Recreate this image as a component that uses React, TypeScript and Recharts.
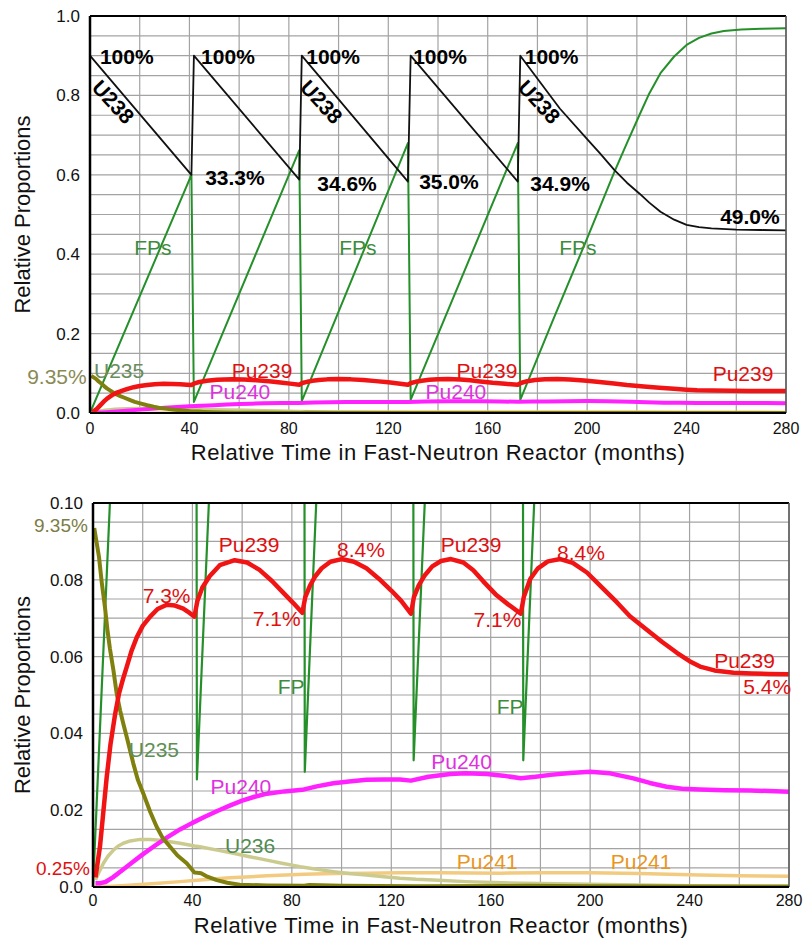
import React from "react";
import { LineChart, Line, XAxis, YAxis, CartesianGrid, ReferenceDot, ReferenceLine } from "recharts";

const FONT = "Arial, 'Liberation Sans', sans-serif";

// axis ticks (months / proportions)
const xGridTicks = [0, 20, 40, 60, 80, 100, 120, 140, 160, 180, 200, 220, 240, 260, 280];
const xLabelTicks = [0, 40, 80, 120, 160, 200, 240, 280];
const topYGrid = Array.from({ length: 21 }, (_, i) => i * 0.05);
const topYLabels = [0, 0.2, 0.4, 0.6, 0.8, 1.0];
const bottomYGrid = Array.from({ length: 21 }, (_, i) => i * 0.005);
const bottomYLabels = [0, 0.02, 0.04, 0.06, 0.08, 0.1];

// series: [month, proportion]
const u238 = [
  [0, 0.9], [40.8, 0.6], [41.8, 0.9], [84.2, 0.588], [85.2, 0.9], [127.9, 0.583], [129, 0.9],
  [172.1, 0.583], [173.1, 0.9], [189, 0.767], [200, 0.69], [205, 0.655], [211, 0.612], [216, 0.58],
  [221, 0.553], [225, 0.53], [229.5, 0.507], [235, 0.487], [240, 0.474], [245, 0.468], [250, 0.465],
  [260, 0.462], [270, 0.461], [280, 0.46],
];

const fps = [
  [0, 0], [40.8, 0.6], [41.8, 0.028], [84.2, 0.662], [85.2, 0.03], [127.9, 0.68], [129, 0.033],
  [172.1, 0.68], [173.1, 0.033], [186, 0.23], [200, 0.44], [211, 0.608], [216, 0.68], [221, 0.75],
  [225, 0.805], [229.5, 0.856], [235, 0.898], [240, 0.927], [245, 0.945], [250, 0.956], [255, 0.962],
  [262, 0.966], [270, 0.968], [280, 0.969],
];

const pu239 = [
  [1, 0.0025], [2.8, 0.0105], [4, 0.0185], [5.5, 0.0285], [7, 0.037], [8.9, 0.045], [10.5, 0.0505],
  [12, 0.054], [13.6, 0.0574], [15.5, 0.0615], [17.6, 0.065], [20, 0.068], [23, 0.0704], [26, 0.0724],
  [29.7, 0.0735], [33, 0.0733], [36.3, 0.0725], [39, 0.0713], [40.8, 0.0704],
  [42, 0.0745], [44, 0.078], [47, 0.081], [51, 0.0838], [57, 0.0851], [62, 0.0845], [67, 0.0826],
  [72, 0.0797], [76.6, 0.0766], [80.5, 0.074], [84.2, 0.0714],
  [85.4, 0.0755], [87.3, 0.0785], [89.5, 0.081], [92, 0.083], [95.5, 0.0847], [100, 0.0854],
  [105, 0.0847], [110, 0.083], [115, 0.0803], [120, 0.0772], [124, 0.0745], [127.9, 0.0712],
  [129.1, 0.0755], [131, 0.0785], [133.5, 0.0812], [136.5, 0.0835], [140, 0.0849], [144, 0.0854],
  [149, 0.0845], [153, 0.0825], [157, 0.0796], [162, 0.0762], [167, 0.0736], [172.1, 0.0712],
  [173.3, 0.0755], [175.9, 0.0802], [179, 0.083], [183, 0.0848], [188, 0.0854], [193, 0.0844],
  [198.7, 0.0819], [204, 0.0785], [210.8, 0.0741], [216, 0.0705], [222.8, 0.067], [229, 0.0638],
  [234.9, 0.061], [240, 0.0588], [244.2, 0.0574], [250, 0.0564], [257.7, 0.0558], [265, 0.0556],
  [272, 0.0555], [280, 0.0554],
];

const pu240 = [
  [1, 0.001], [3, 0.001], [5, 0.0013], [8, 0.0025], [12, 0.0045], [16, 0.0065], [20, 0.0085],
  [25, 0.0108], [30, 0.013], [35, 0.015], [40, 0.0167], [45, 0.0183], [50, 0.0198], [55, 0.0212],
  [60, 0.0225], [65, 0.0235], [70, 0.0243], [77, 0.0249], [84.2, 0.0253], [90, 0.0262],
  [96.7, 0.027], [103, 0.0275], [110, 0.0279], [117, 0.028], [123.5, 0.028], [127.9, 0.0277],
  [135, 0.0287], [143.7, 0.0294], [150, 0.0296], [158.4, 0.0294], [165, 0.029], [172.1, 0.0283],
  [178, 0.0287], [184, 0.0292], [192, 0.0297], [200, 0.03], [208, 0.0296], [217.4, 0.0283],
  [224, 0.0271], [230.8, 0.0261], [237, 0.0256], [244.2, 0.0254], [254, 0.0252], [264.4, 0.0251],
  [272, 0.025], [280, 0.0248],
];

const u235 = [
  [0.5, 0.0935], [2.4, 0.086], [3.5, 0.0794], [4.8, 0.0729], [5.8, 0.067], [6.8, 0.0621],
  [8.2, 0.0565], [9.5, 0.0505], [10.9, 0.046], [12.2, 0.0425], [13.6, 0.039], [16.2, 0.0322],
  [18, 0.028], [20.2, 0.0244], [23, 0.0196], [25.6, 0.0157], [28, 0.0128], [31, 0.0105],
  [34, 0.0082], [37.7, 0.0062], [40.8, 0.0038], [42, 0.0037], [43.5, 0.0036], [46, 0.0027],
  [49.8, 0.0018], [54, 0.0011], [59, 0.0006], [70, 0.0004], [85, 0.0003], [87, 0.0005],
  [100, 0.0003], [130, 0.0002], [175, 0.0003], [200, 0.0002], [240, 0.0001], [280, 0.0001],
];

const u236 = [
  [1, 0.0018], [2.5, 0.004], [4.2, 0.0062], [6, 0.008], [8.2, 0.0096], [10, 0.0106], [12.2, 0.0114],
  [15, 0.012], [18.9, 0.0124], [23, 0.0124], [27, 0.0122], [31, 0.0118], [35, 0.0114],
  [40.8, 0.0107], [43, 0.0105], [50, 0.0096], [56.5, 0.0088], [63, 0.0079], [69.9, 0.007],
  [76, 0.0062], [83.3, 0.0053], [90, 0.0046], [96.7, 0.004], [103, 0.0035], [110, 0.0031],
  [117, 0.0027], [123.5, 0.0023], [130, 0.002], [137, 0.0018], [150, 0.0014], [165, 0.0011],
  [180, 0.0009], [200, 0.0007], [220, 0.0005], [240, 0.0003], [260, 0.0002], [280, 0.0001],
];

const pu241 = [
  [0, 0], [8, 0.0002], [16, 0.0005], [25, 0.0009], [35, 0.0014], [43, 0.0018], [55, 0.0024],
  [70, 0.0029], [85, 0.0033], [97, 0.0035], [110, 0.0036], [123.5, 0.0037], [140, 0.0037],
  [164, 0.0036], [180, 0.0037], [200, 0.0037], [220, 0.0035], [244, 0.0031], [260, 0.0029],
  [280, 0.0028],
];

const C = {
  u238: "#111111",
  fp: "#25902a",
  pu239: "#f01414",
  pu240: "#ff22ff",
  u235: "#80800f",
  u236: "#cbcb90",
  pu241: "#f2cb80",
};

type Note = { text: string; t: number; v: number; color: string; bold?: boolean; rotate?: number; size?: number };

const topNotes: Note[] = [
  { text: "100%", t: 14.8, v: 0.899, color: "#000", bold: true },
  { text: "100%", t: 55.5, v: 0.899, color: "#000", bold: true },
  { text: "100%", t: 97.8, v: 0.899, color: "#000", bold: true },
  { text: "100%", t: 140.8, v: 0.899, color: "#000", bold: true },
  { text: "100%", t: 185.7, v: 0.899, color: "#000", bold: true },
  { text: "U238", t: 9.4, v: 0.784, color: "#000", bold: true, rotate: 47 },
  { text: "U238", t: 93.2, v: 0.784, color: "#000", bold: true, rotate: 47 },
  { text: "U238", t: 180.8, v: 0.784, color: "#000", bold: true, rotate: 47 },
  { text: "33.3%", t: 58.3, v: 0.594, color: "#000", bold: true },
  { text: "34.6%", t: 103.4, v: 0.579, color: "#000", bold: true },
  { text: "35.0%", t: 144.4, v: 0.582, color: "#000", bold: true },
  { text: "34.9%", t: 189.1, v: 0.579, color: "#000", bold: true },
  { text: "49.0%", t: 265.5, v: 0.494, color: "#000", bold: true },
  { text: "FPs", t: 25.3, v: 0.418, color: "#3d8c3d" },
  { text: "FPs", t: 107.8, v: 0.416, color: "#3d8c3d" },
  { text: "FPs", t: 196.3, v: 0.418, color: "#3d8c3d" },
  { text: "9.35%", t: -13.3, v: 0.0907, color: "#8a8a55" },
  { text: "U235", t: 11.7, v: 0.108, color: "#6a8c5c" },
  { text: "Pu239", t: 69.2, v: 0.108, color: "#e01010" },
  { text: "Pu240", t: 60.3, v: 0.053, color: "#e030e0" },
  { text: "Pu239", t: 159.7, v: 0.108, color: "#e01010" },
  { text: "Pu240", t: 147.2, v: 0.053, color: "#e030e0" },
  { text: "Pu239", t: 262.7, v: 0.1, color: "#e01010" },
];

const bottomNotes: Note[] = [
  { text: "9.35%", t: -12.9, v: 0.0942, color: "#7c7c45", size: 19 },
  { text: "Pu239", t: 62.8, v: 0.0891, color: "#e01010" },
  { text: "7.3%", t: 29.6, v: 0.076, color: "#e01010" },
  { text: "7.1%", t: 73.9, v: 0.07, color: "#e01010" },
  { text: "8.4%", t: 107.8, v: 0.0878, color: "#e01010" },
  { text: "Pu239", t: 152.1, v: 0.0891, color: "#e01010" },
  { text: "7.1%", t: 162.7, v: 0.0697, color: "#e01010" },
  { text: "8.4%", t: 196.3, v: 0.0871, color: "#e01010" },
  { text: "Pu239", t: 262.1, v: 0.0591, color: "#e01010" },
  { text: "5.4%", t: 271.2, v: 0.0522, color: "#e01010" },
  { text: "FP", t: 79.7, v: 0.0522, color: "#3d8c3d" },
  { text: "FP", t: 167.8, v: 0.047, color: "#3d8c3d" },
  { text: "U235", t: 24.5, v: 0.0357, color: "#5d9052" },
  { text: "Pu240", t: 59.5, v: 0.0261, color: "#e030e0" },
  { text: "U236", t: 63.2, v: 0.0109, color: "#4f8c4f" },
  { text: "0.25%", t: -12.1, v: 0.0049, color: "#e01010", size: 19 },
  { text: "Pu240", t: 148.3, v: 0.0326, color: "#e030e0" },
  { text: "Pu241", t: 158.6, v: 0.0066, color: "#e8961e" },
  { text: "Pu241", t: 220.5, v: 0.0066, color: "#e8961e" },
];

const rows = (s: number[][]) => s.map(([t, v]) => ({ t, v }));
const inList = (list: number[], v: number) => list.some((l) => Math.abs(l - v) < 1e-9);

function noteShape(n: Note) {
  return (p: any) => (
    <text
      x={p.cx}
      y={p.cy}
      fill={n.color}
      fontSize={n.size ?? 21}
      fontWeight={n.bold ? 700 : 400}
      fontFamily={FONT}
      textAnchor="middle"
      dominantBaseline="central"
      transform={n.rotate ? `rotate(${n.rotate} ${p.cx} ${p.cy})` : undefined}
    >
      {n.text}
    </text>
  );
}

function xTitle(dy: number) {
  return (props: any) => {
    const vb = props.viewBox ?? props;
    return (
      <text
        x={vb.x + vb.width / 2}
        y={vb.y + dy}
        textAnchor="middle"
        dominantBaseline="central"
        fontSize={22}
        letterSpacing={0.6}
        fontFamily={FONT}
        fill="#111"
      >
        Relative Time in Fast-Neutron Reactor (months)
      </text>
    );
  };
}

function yTitle(props: any) {
  const vb = props.viewBox ?? props;
  const cx = 22;
  const cy = vb.y + vb.height / 2;
  return (
    <text
      x={cx}
      y={cy}
      transform={`rotate(-90 ${cx} ${cy})`}
      textAnchor="middle"
      dominantBaseline="central"
      fontSize={22}
      fontFamily={FONT}
      fill="#111"
    >
      Relative Proportions
    </text>
  );
}

const tickStyle = { fontSize: 17, fill: "#111", fontFamily: FONT };

type Series = { key: string; data: number[][]; color: string; width: number };

function Panel({
  width,
  height,
  margin,
  yAxisWidth,
  xAxisHeight,
  yMax,
  yGrid,
  yLabels,
  yFormat,
  series,
  notes,
  tickMargin,
  titleDy,
}: {
  width: number;
  height: number;
  margin: { top: number; right: number; bottom: number; left: number };
  yAxisWidth: number;
  xAxisHeight: number;
  yMax: number;
  yGrid: number[];
  yLabels: number[];
  yFormat: (v: number) => string;
  series: Series[];
  notes: Note[];
  tickMargin: number;
  titleDy: number;
}) {
  return (
    <LineChart width={width} height={height} margin={margin}>
      <CartesianGrid stroke="#a3a3a3" strokeWidth={1.2} fill="#fff" />
      <XAxis
        dataKey="t"
        type="number"
        domain={[0, 280]}
        ticks={xGridTicks}
        interval={0}
        tickLine={false}
        tickMargin={tickMargin}
        tickFormatter={(v: number) => (inList(xLabelTicks, v) ? String(v) : "")}
        tick={{ ...tickStyle, fontSize: 16 }}
        axisLine={{ stroke: "#000", strokeWidth: 2 }}
        height={xAxisHeight}
        label={xTitle(titleDy)}
      />
      <YAxis
        type="number"
        domain={[0, yMax]}
        ticks={yGrid}
        interval={0}
        allowDataOverflow
        tickLine={false}
        tickMargin={4}
        tickFormatter={(v: number) => (inList(yLabels, v) ? yFormat(v) : "")}
        tick={tickStyle}
        axisLine={{ stroke: "#000", strokeWidth: 2.5 }}
        width={yAxisWidth}
        label={yTitle}
      />
      {series.map((s) => (
        <Line
          key={s.key}
          data={rows(s.data)}
          dataKey="v"
          type="linear"
          stroke={s.color}
          strokeWidth={s.width}
          strokeLinejoin="round"
          dot={false}
          activeDot={false}
          isAnimationActive={false}
        />
      ))}
      <ReferenceLine y={yMax} stroke="#000" strokeWidth={2} />
      <ReferenceLine x={280} stroke="#555" strokeWidth={1.5} />
      {notes.map((n, i) => (
        <ReferenceDot key={i} x={n.t} y={n.v} r={0} ifOverflow="visible" shape={noteShape(n)} />
      ))}
    </LineChart>
  );
}

export default function App() {
  const topSeries: Series[] = [
    { key: "pu241", data: pu241, color: C.pu241, width: 2.5 },
    { key: "u236", data: u236, color: C.u236, width: 2.5 },
    { key: "fp", data: fps, color: C.fp, width: 2 },
    { key: "u238", data: u238, color: C.u238, width: 1.8 },
    { key: "pu240", data: pu240, color: C.pu240, width: 4 },
    { key: "u235", data: u235, color: C.u235, width: 4 },
    { key: "pu239", data: pu239, color: C.pu239, width: 4.5 },
  ];
  const bottomSeries: Series[] = [
    { key: "fp", data: fps, color: C.fp, width: 2.2 },
    { key: "pu241", data: pu241, color: C.pu241, width: 3.5 },
    { key: "u236", data: u236, color: C.u236, width: 3.5 },
    { key: "pu240", data: pu240, color: C.pu240, width: 4.5 },
    { key: "u235", data: u235, color: C.u235, width: 4 },
    { key: "pu239", data: pu239, color: C.pu239, width: 4.5 },
  ];
  return (
    <div style={{ position: "absolute", left: 0, top: 0, width: 804, height: 939, background: "#fff" }}>
      <Panel
        width={804}
        height={470}
        margin={{ top: 16, right: 18, bottom: 0, left: 0 }}
        yAxisWidth={90}
        xAxisHeight={57}
        yMax={1}
        yGrid={topYGrid}
        yLabels={topYLabels}
        yFormat={(v) => v.toFixed(1)}
        series={topSeries}
        notes={topNotes}
        tickMargin={4}
        titleDy={39}
      />
      <Panel
        width={804}
        height={469}
        margin={{ top: 33, right: 15, bottom: 0, left: 0 }}
        yAxisWidth={93}
        xAxisHeight={52}
        yMax={0.1}
        yGrid={bottomYGrid}
        yLabels={bottomYLabels}
        yFormat={(v) => (v === 0 ? "0.0" : v.toFixed(2))}
        series={bottomSeries}
        notes={bottomNotes}
        tickMargin={2}
        titleDy={38}
      />
    </div>
  );
}
